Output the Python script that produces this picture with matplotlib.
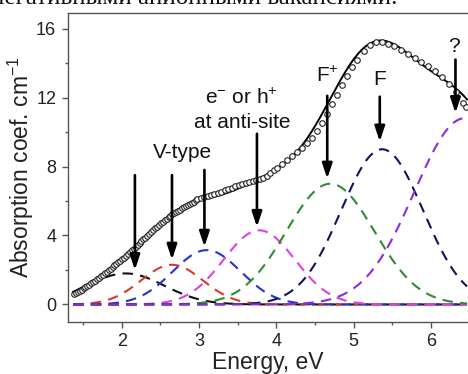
import numpy as np
import matplotlib
matplotlib.use("Agg")
import matplotlib.pyplot as plt
from matplotlib.ticker import MultipleLocator

plt.rcParams['font.family'] = ['Liberation Sans', 'DejaVu Sans']
plt.rcParams['mathtext.fontset'] = 'custom'
plt.rcParams['mathtext.rm'] = 'Liberation Sans'
plt.rcParams['mathtext.it'] = 'Liberation Sans:italic'

# Measured absorption spectrum
energy = [
    1.380, 1.405, 1.430, 1.455, 1.480, 1.505, 1.530, 1.555, 1.580, 1.605,
    1.630, 1.655, 1.680, 1.705, 1.730, 1.755, 1.780, 1.805, 1.830, 1.855,
    1.880, 1.905, 1.930, 1.955, 1.980, 2.005, 2.030, 2.055, 2.080, 2.105,
    2.130, 2.155, 2.180, 2.205, 2.230, 2.255, 2.280, 2.305, 2.330, 2.355,
    2.380, 2.405, 2.430, 2.455, 2.480, 2.505, 2.530, 2.555, 2.580, 2.605,
    2.630, 2.655, 2.680, 2.705, 2.730, 2.755, 2.780, 2.805, 2.830, 2.855,
    2.880, 2.905, 2.930, 2.955, 2.980,
    3.020, 3.065, 3.110, 3.155, 3.200, 3.245, 3.290, 3.335, 3.380, 3.425,
    3.470, 3.515, 3.560, 3.605, 3.650, 3.695, 3.740, 3.785, 3.830, 3.875,
    3.920, 3.965,
    4.010, 4.075, 4.140, 4.205, 4.270, 4.335, 4.400, 4.465, 4.530, 4.595,
    4.660, 4.725, 4.790, 4.855, 4.920, 4.985,
    5.050, 5.130, 5.210, 5.290, 5.370, 5.450, 5.530, 5.610, 5.700, 5.790,
    5.880, 5.970, 6.060, 6.150, 6.240, 6.330, 6.420, 6.460,
]
absorption = [
    0.62, 0.68, 0.74, 0.80, 0.86, 0.93, 1.00, 1.07, 1.14, 1.22,
    1.30, 1.38, 1.46, 1.55, 1.64, 1.72, 1.81, 1.90, 1.99, 2.08,
    2.17, 2.26, 2.35, 2.44, 2.53, 2.62, 2.72, 2.82, 2.92, 3.03,
    3.13, 3.24, 3.34, 3.45, 3.55, 3.66, 3.77, 3.88, 3.99, 4.10,
    4.20, 4.31, 4.41, 4.51, 4.61, 4.70, 4.80, 4.89, 4.98, 5.06,
    5.14, 5.22, 5.29, 5.36, 5.43, 5.50, 5.57, 5.64, 5.71, 5.78,
    5.84, 5.91, 5.97, 6.03, 6.09,
    6.15, 6.22, 6.29, 6.35, 6.41, 6.48, 6.55, 6.62, 6.69, 6.77,
    6.86, 6.95, 7.01, 7.06, 7.10, 7.15, 7.20, 7.27, 7.35, 7.47,
    7.62, 7.78,
    7.90, 8.12, 8.35, 8.60, 8.85, 9.10, 9.38, 9.68, 10.05, 10.55,
    11.05, 11.60, 12.15, 12.70, 13.25, 13.75,
    14.20, 14.70, 15.05, 15.20, 15.22, 15.12, 14.98, 14.78, 14.55, 14.30,
    14.08, 13.85, 13.55, 13.20, 12.80, 12.30, 11.70, 11.45,
]

# Gaussian bands of the decomposition
band_center = [2.05, 2.65, 3.10, 3.78, 4.70, 5.37, 6.44]
band_height = [1.80, 2.30, 3.15, 4.30, 7.00, 9.00, 10.80]
band_width = [0.50, 0.40, 0.44, 0.46, 0.57, 0.53, 0.65]
band_color = ['#111111', '#d93a2b', '#2233d0', '#e040e0', '#2e8b2e',
              '#12125e', '#8a2be2']

# Arrows marking the band positions
arrow_x = [2.17, 2.65, 3.07, 3.75, 4.66, 5.34, 6.32]
arrow_top = [7.5, 7.5, 7.8, 9.9, 12.1, 12.05, 14.2]
arrow_tip = [2.0, 2.6, 3.35, 4.5, 7.3, 9.45, 11.1]

# Band assignments
label_text = ['V-type', 'e$^{-}$ or h$^{+}$', 'at anti-site', 'F$^{+}$', 'F', '?']
label_x = [2.78, 3.55, 3.56, 4.66, 5.34, 6.30]
label_y = [8.47, 11.62, 10.23, 12.92, 12.72, 14.66]

W, H = 468, 374
fig = plt.figure(figsize=(W / 100, H / 100), dpi=100)
ax = fig.add_axes([67.7 / W, 52.3 / H, (468.6 - 67.7) / W, 309.0 / H])

xs = np.linspace(1.37, 6.47, 600)
total = np.zeros_like(xs)
for c, h, w, col in zip(band_center, band_height, band_width, band_color):
    g = h * np.exp(-(xs - c) ** 2 / (2 * w ** 2))
    total += g
    ax.plot(xs, g, color=col, lw=1.5, dashes=(5, 3.5), zorder=2)

ax.plot(xs, total, color='black', lw=1.4, zorder=3)
ax.plot(energy, absorption, 'o', ms=4.0, mfc='white', mec='#222222',
        mew=0.8, zorder=4)

for x, y0, y1 in zip(arrow_x, arrow_top, arrow_tip):
    ax.annotate('', xy=(x, y1), xytext=(x, y0),
                arrowprops=dict(arrowstyle='-|>,head_length=0.9,head_width=0.3',
                                lw=1.9, color='black', shrinkA=0, shrinkB=0,
                                mutation_scale=10),
                zorder=5)

for t, x, y in zip(label_text, label_x, label_y):
    ax.text(x, y, t, ha='center', va='baseline', fontsize=15, color='#111111',
            zorder=6)

ax.set_xlim(1.3, 6.49)
ax.set_ylim(-1.0, 16.92)
ax.xaxis.set_major_locator(MultipleLocator(1))
ax.xaxis.set_minor_locator(MultipleLocator(0.5))
ax.yaxis.set_major_locator(MultipleLocator(4))
ax.yaxis.set_minor_locator(MultipleLocator(2))
ax.tick_params(which='both', direction='out', color='#555555', width=1.0,
               labelsize=13, labelcolor='#222222', pad=4)
ax.tick_params(which='major', length=4.3)
ax.tick_params(which='minor', length=2.4)
for s in ax.spines.values():
    s.set_color('#555555')
    s.set_linewidth(1.0)

ax.set_xlabel('Energy, eV', fontsize=16.5, color='#222222')
ax.set_ylabel('Absorption coef. cm$^{-1}$', fontsize=16.5, color='#222222')
ax.xaxis.set_label_coords(0.5, -0.095)
ax.yaxis.set_label_coords(-0.079, 0.5)

# Preceding line of the page text, partly above the figure edge
fig.text(397 / W, 1 - 4.5 / H, 'негативными анионными вакансиями.',
         ha='right', va='baseline', fontsize=18,
         family=['Liberation Serif', 'DejaVu Serif'], color='#111111')

fig.savefig('out.png', dpi=100)
